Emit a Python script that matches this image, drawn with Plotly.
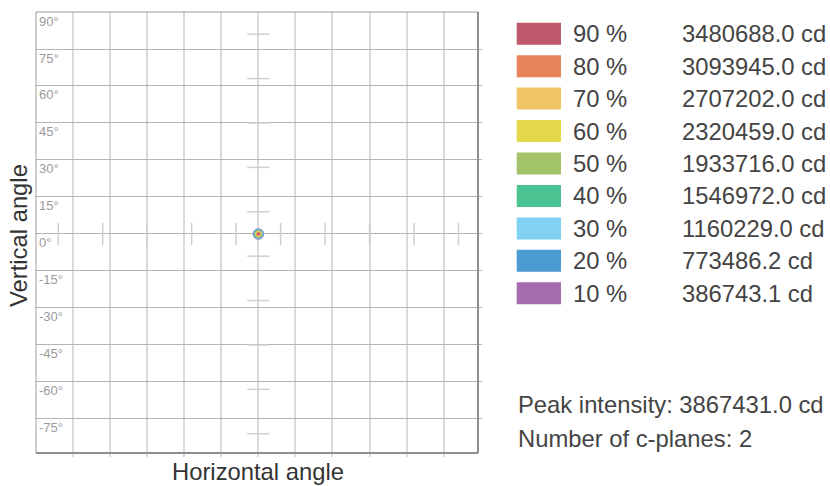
import numpy as np
import plotly.graph_objects as go

# ---------------- data ----------------
level_pct = [90, 80, 70, 60, 50, 40, 30, 20, 10]
level_cd = ["3480688.0", "3093945.0", "2707202.0", "2320459.0", "1933716.0",
            "1546972.0", "1160229.0", "773486.2", "386743.1"]
level_colors = ["#bf5a6d", "#e6845c", "#f1c463", "#e4d84a", "#a3c46b",
                "#4cc393", "#80d1f2", "#4a9bd2", "#a56cad"]
# iso-candela contour radius (degrees), per level
level_radius_deg = [0.5, 0.8, 1.0, 1.2, 1.4, 1.6, 1.8, 2.0, 2.2]
peak_cd = "3867431.0"
n_cplanes = 2

grid_angles = [-75, -60, -45, -30, -15, 0, 15, 30, 45, 60, 75]
y_tick_vals = [90, 75, 60, 45, 30, 15, 0, -15, -30, -45, -60, -75]
y_tick_text = ["90°", "75°", "60°", "45°", "30°", "15°", "0°", "-15°", "-30°", "-45°", "-60°", "-75°"]
minor_mark_angles = [-81, -63, -45, -27, -9, 9, 27, 45, 63, 81]
minor_mark_half = 4.5

x_range = [-90, 88.9]
y_range = [-88.8, 90]

W, H = 830, 486
PL, PR, PT, PB = 36, 478, 12, 453          # plot area in window pixels
L, T, R, B = PL, PT, W - PR, H - PB
PW, PH = PR - PL, PB - PT


def px2x(px):
    return (px - PL) / PW


def py2y(py):
    return 1 - (py - PT) / PH


FONT = "Liberation Sans, Arial, sans-serif"
BIG = 23.8

fig = go.Figure()

# minor cross marks
hx, hy = [], []
for a in minor_mark_angles:
    hx += [-minor_mark_half, minor_mark_half, None]
    hy += [a, a, None]
vx, vy = [], []
for a in minor_mark_angles:
    vx += [a, a, None]
    vy += [-minor_mark_half, minor_mark_half, None]
fig.add_trace(go.Scatter(x=hx + vx, y=hy + vy, mode="lines",
                         line=dict(color="#cfcfcf", width=1.5),
                         hoverinfo="skip", showlegend=False))

# iso-candela contours (largest first)
theta = np.linspace(0, 2 * np.pi, 60)
for pct, col, r in sorted(zip(level_pct, level_colors, level_radius_deg), key=lambda t: -t[2]):
    fig.add_trace(go.Scatter(x=r * np.cos(theta), y=r * np.sin(theta), mode="lines",
                             fill="toself", fillcolor=col, line=dict(color=col, width=0.5),
                             name=f"{pct} %", showlegend=False))

fig.update_xaxes(range=x_range, tickvals=grid_angles, showticklabels=False,
                 showgrid=True, gridcolor="#dadada", gridwidth=2, zeroline=False,
                 ticks="outside", ticklen=3, tickcolor="#dadada", tickwidth=2,
                 showline=False, fixedrange=True)
fig.update_yaxes(range=y_range, tickvals=y_tick_vals[1:], showticklabels=False,
                 showgrid=True, gridcolor="#b5b5b5", gridwidth=1, zeroline=False,
                 side="right", ticks="outside", ticklen=3, tickcolor="#b5b5b5",
                 showline=False, fixedrange=True)

shapes = [
    dict(type="line", xref="paper", yref="paper", x0=0, x1=0, y0=0, y1=1, line=dict(color="#9a9a9a", width=1)),
    dict(type="line", xref="paper", yref="paper", x0=0, x1=1, y0=1, y1=1, line=dict(color="#9a9a9a", width=1)),
    dict(type="line", xref="paper", yref="paper", x0=1, x1=1, y0=0, y1=1, line=dict(color="#8e8e8e", width=2)),
    dict(type="line", xref="paper", yref="paper", x0=0, x1=1, y0=0, y1=0, line=dict(color="#8e8e8e", width=2)),
]

annotations = []
for v, t in zip(y_tick_vals, y_tick_text):
    annotations.append(dict(x=0, xref="paper", y=v, yref="y", text=t, showarrow=False,
                            xanchor="left", yanchor="middle", xshift=1, yshift=-9,
                            font=dict(family=FONT, size=13, color="#9a9a9a")))

annotations.append(dict(x=px2x(257.7), xref="paper", y=py2y(486), yref="paper",
                        text="Horizontal angle", showarrow=False, xanchor="center", yanchor="bottom",
                        borderpad=0,
                        font=dict(family=FONT, size=BIG, color="#333333")))
annotations.append(dict(x=px2x(18), xref="paper", y=py2y(236), yref="paper",
                        text="Vertical angle", showarrow=False, xanchor="center", yanchor="middle",
                        textangle=-90, borderpad=0,
                        font=dict(family=FONT, size=BIG, color="#333333")))

# legend
row0, dy = 33.7, 32.45
for i, (pct, cd, col) in enumerate(zip(level_pct, level_cd, level_colors)):
    cy = row0 + i * dy
    shapes.append(dict(type="rect", xref="paper", yref="paper",
                       x0=px2x(516.7), x1=px2x(561), y0=py2y(cy + 11), y1=py2y(cy - 11),
                       fillcolor=col, line=dict(width=0)))
    annotations.append(dict(x=px2x(571), xref="paper", y=py2y(cy), yref="paper",
                            text=f"{pct} %", showarrow=False, xanchor="left", yanchor="middle",
                            font=dict(family=FONT, size=BIG, color="#444444")))
    annotations.append(dict(x=px2x(680), xref="paper", y=py2y(cy), yref="paper",
                            text=f"{cd} cd", showarrow=False, xanchor="left", yanchor="middle",
                            font=dict(family=FONT, size=BIG, color="#444444")))

annotations.append(dict(x=px2x(516), xref="paper", y=py2y(404), yref="paper",
                        text=f"Peak intensity: {peak_cd} cd", showarrow=False,
                        xanchor="left", yanchor="middle",
                        font=dict(family=FONT, size=BIG, color="#444444")))
annotations.append(dict(x=px2x(516), xref="paper", y=py2y(438), yref="paper",
                        text=f"Number of c-planes: {n_cplanes}", showarrow=False,
                        xanchor="left", yanchor="middle",
                        font=dict(family=FONT, size=BIG, color="#444444")))

fig.update_layout(width=W, height=H, margin=dict(l=L, r=R, t=T, b=B, pad=0),
                  paper_bgcolor="white", plot_bgcolor="white",
                  shapes=shapes, annotations=annotations, showlegend=False,
                  font=dict(family=FONT))

fig.write_html("out.html", config={"displayModeBar": False, "staticPlot": True},
               post_script="document.body.style.margin='0';document.body.style.overflow='hidden';")
